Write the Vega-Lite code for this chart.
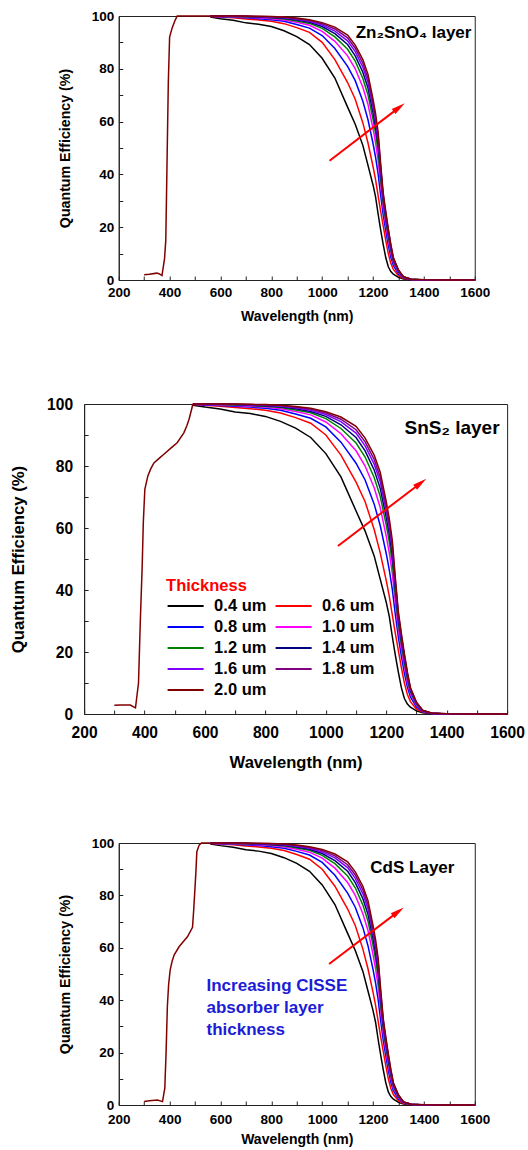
{
  "$schema": "https://vega.github.io/schema/vega-lite/v6.json",
  "padding": {"top": 8, "left": 9, "right": 0, "bottom": 0},
  "background": "white",
  "config": {
    "view": {"stroke": "#222222", "strokeWidth": 1},
    "font": "Liberation Sans",
    "axis": {"grid": false, "domainColor": "#222222", "tickColor": "#222222", "labelColor": "#000000", "titleColor": "#000000", "labelFont": "Liberation Sans", "titleFont": "Liberation Sans", "labelFontWeight": "bold", "titleFontWeight": "bold", "tickSize": -4, "labelFlush": false, "labelOverlap": false}
  },
  "datasets": {
    "long": [
      {"t":"0.4 um","w":560,"q":99.6},{"t":"0.4 um","w":600,"q":99.0},{"t":"0.4 um","w":650,"q":98.4},{"t":"0.4 um","w":700,"q":97.4},{"t":"0.4 um","w":750,"q":96.9},{"t":"0.4 um","w":800,"q":96.0},{"t":"0.4 um","w":850,"q":94.4},{"t":"0.4 um","w":900,"q":92.2},{"t":"0.4 um","w":950,"q":89.2},{"t":"0.4 um","w":1000,"q":84},{"t":"0.4 um","w":1050,"q":76.5},{"t":"0.4 um","w":1100,"q":65.5},{"t":"0.4 um","w":1130,"q":59},{"t":"0.4 um","w":1160,"q":51},{"t":"0.4 um","w":1180,"q":43.5},{"t":"0.4 um","w":1200,"q":36},{"t":"0.4 um","w":1210,"q":31.5},{"t":"0.4 um","w":1220,"q":25},{"t":"0.4 um","w":1230,"q":19},{"t":"0.4 um","w":1240,"q":13.5},{"t":"0.4 um","w":1250,"q":8.5},{"t":"0.4 um","w":1260,"q":5},{"t":"0.4 um","w":1270,"q":3.2},{"t":"0.4 um","w":1280,"q":2.2},{"t":"0.4 um","w":1300,"q":1.0},{"t":"0.4 um","w":1320,"q":0.4},{"t":"0.4 um","w":1350,"q":0.1},{"t":"0.4 um","w":1400,"q":0},{"t":"0.4 um","w":1500,"q":0},{"t":"0.4 um","w":1600,"q":0},
      {"t":"0.6 um","w":560,"q":99.8},{"t":"0.6 um","w":600,"q":99.6},{"t":"0.6 um","w":650,"q":99.3},{"t":"0.6 um","w":700,"q":98.9},{"t":"0.6 um","w":750,"q":98.5},{"t":"0.6 um","w":800,"q":98.0},{"t":"0.6 um","w":850,"q":97.1},{"t":"0.6 um","w":900,"q":95.6},{"t":"0.6 um","w":950,"q":93.8},{"t":"0.6 um","w":1000,"q":90},{"t":"0.6 um","w":1050,"q":83.5},{"t":"0.6 um","w":1100,"q":74.8},{"t":"0.6 um","w":1130,"q":68.5},{"t":"0.6 um","w":1160,"q":59.5},{"t":"0.6 um","w":1180,"q":52},{"t":"0.6 um","w":1200,"q":43},{"t":"0.6 um","w":1210,"q":38},{"t":"0.6 um","w":1220,"q":32},{"t":"0.6 um","w":1230,"q":26},{"t":"0.6 um","w":1240,"q":20.5},{"t":"0.6 um","w":1250,"q":15},{"t":"0.6 um","w":1260,"q":10},{"t":"0.6 um","w":1270,"q":6.3},{"t":"0.6 um","w":1280,"q":4.0},{"t":"0.6 um","w":1300,"q":1.6},{"t":"0.6 um","w":1320,"q":0.6},{"t":"0.6 um","w":1350,"q":0.15},{"t":"0.6 um","w":1400,"q":0},{"t":"0.6 um","w":1500,"q":0},{"t":"0.6 um","w":1600,"q":0},
      {"t":"0.8 um","w":560,"q":99.9},{"t":"0.8 um","w":600,"q":99.7},{"t":"0.8 um","w":650,"q":99.5},{"t":"0.8 um","w":700,"q":99.3},{"t":"0.8 um","w":750,"q":99.0},{"t":"0.8 um","w":800,"q":98.6},{"t":"0.8 um","w":850,"q":98.0},{"t":"0.8 um","w":900,"q":96.8},{"t":"0.8 um","w":950,"q":95.4},{"t":"0.8 um","w":1000,"q":92.6},{"t":"0.8 um","w":1050,"q":87.7},{"t":"0.8 um","w":1100,"q":80.9},{"t":"0.8 um","w":1130,"q":75.5},{"t":"0.8 um","w":1160,"q":67.7},{"t":"0.8 um","w":1180,"q":60.8},{"t":"0.8 um","w":1200,"q":51.7},{"t":"0.8 um","w":1210,"q":46.5},{"t":"0.8 um","w":1220,"q":40.2},{"t":"0.8 um","w":1230,"q":32.1},{"t":"0.8 um","w":1240,"q":24.8},{"t":"0.8 um","w":1250,"q":18.7},{"t":"0.8 um","w":1260,"q":13.2},{"t":"0.8 um","w":1270,"q":8.7},{"t":"0.8 um","w":1280,"q":5.5},{"t":"0.8 um","w":1300,"q":2.3},{"t":"0.8 um","w":1320,"q":0.8},{"t":"0.8 um","w":1350,"q":0.2},{"t":"0.8 um","w":1400,"q":0},{"t":"0.8 um","w":1500,"q":0},{"t":"0.8 um","w":1600,"q":0},
      {"t":"1.0 um","w":560,"q":99.9},{"t":"1.0 um","w":600,"q":99.8},{"t":"1.0 um","w":650,"q":99.7},{"t":"1.0 um","w":700,"q":99.5},{"t":"1.0 um","w":750,"q":99.3},{"t":"1.0 um","w":800,"q":99.0},{"t":"1.0 um","w":850,"q":98.5},{"t":"1.0 um","w":900,"q":97.6},{"t":"1.0 um","w":950,"q":96.5},{"t":"1.0 um","w":1000,"q":94.2},{"t":"1.0 um","w":1050,"q":90.4},{"t":"1.0 um","w":1100,"q":84.9},{"t":"1.0 um","w":1130,"q":80.0},{"t":"1.0 um","w":1160,"q":73.0},{"t":"1.0 um","w":1180,"q":66.6},{"t":"1.0 um","w":1200,"q":57.3},{"t":"1.0 um","w":1210,"q":52.0},{"t":"1.0 um","w":1220,"q":45.4},{"t":"1.0 um","w":1230,"q":36.1},{"t":"1.0 um","w":1240,"q":27.5},{"t":"1.0 um","w":1250,"q":21.2},{"t":"1.0 um","w":1260,"q":15.3},{"t":"1.0 um","w":1270,"q":10.3},{"t":"1.0 um","w":1280,"q":6.5},{"t":"1.0 um","w":1300,"q":2.8},{"t":"1.0 um","w":1320,"q":0.9},{"t":"1.0 um","w":1350,"q":0.2},{"t":"1.0 um","w":1400,"q":0.02},{"t":"1.0 um","w":1500,"q":0},{"t":"1.0 um","w":1600,"q":0},
      {"t":"1.2 um","w":560,"q":99.9},{"t":"1.2 um","w":600,"q":99.9},{"t":"1.2 um","w":650,"q":99.8},{"t":"1.2 um","w":700,"q":99.7},{"t":"1.2 um","w":750,"q":99.5},{"t":"1.2 um","w":800,"q":99.3},{"t":"1.2 um","w":850,"q":98.9},{"t":"1.2 um","w":900,"q":98.1},{"t":"1.2 um","w":950,"q":97.2},{"t":"1.2 um","w":1000,"q":95.3},{"t":"1.2 um","w":1050,"q":92.1},{"t":"1.2 um","w":1100,"q":87.4},{"t":"1.2 um","w":1130,"q":82.9},{"t":"1.2 um","w":1160,"q":76.3},{"t":"1.2 um","w":1180,"q":70.2},{"t":"1.2 um","w":1200,"q":60.9},{"t":"1.2 um","w":1210,"q":55.5},{"t":"1.2 um","w":1220,"q":48.8},{"t":"1.2 um","w":1230,"q":38.6},{"t":"1.2 um","w":1240,"q":29.3},{"t":"1.2 um","w":1250,"q":22.7},{"t":"1.2 um","w":1260,"q":16.7},{"t":"1.2 um","w":1270,"q":11.3},{"t":"1.2 um","w":1280,"q":7.2},{"t":"1.2 um","w":1300,"q":3.1},{"t":"1.2 um","w":1320,"q":1.0},{"t":"1.2 um","w":1350,"q":0.25},{"t":"1.2 um","w":1400,"q":0.03},{"t":"1.2 um","w":1500,"q":0},{"t":"1.2 um","w":1600,"q":0},
      {"t":"1.4 um","w":560,"q":100},{"t":"1.4 um","w":600,"q":99.9},{"t":"1.4 um","w":650,"q":99.9},{"t":"1.4 um","w":700,"q":99.8},{"t":"1.4 um","w":750,"q":99.6},{"t":"1.4 um","w":800,"q":99.4},{"t":"1.4 um","w":850,"q":99.1},{"t":"1.4 um","w":900,"q":98.5},{"t":"1.4 um","w":950,"q":97.6},{"t":"1.4 um","w":1000,"q":96.0},{"t":"1.4 um","w":1050,"q":93.3},{"t":"1.4 um","w":1100,"q":89.2},{"t":"1.4 um","w":1130,"q":84.9},{"t":"1.4 um","w":1160,"q":78.7},{"t":"1.4 um","w":1180,"q":72.8},{"t":"1.4 um","w":1200,"q":63.4},{"t":"1.4 um","w":1210,"q":58.0},{"t":"1.4 um","w":1220,"q":51.2},{"t":"1.4 um","w":1230,"q":40.4},{"t":"1.4 um","w":1240,"q":30.5},{"t":"1.4 um","w":1250,"q":23.8},{"t":"1.4 um","w":1260,"q":17.6},{"t":"1.4 um","w":1270,"q":12.1},{"t":"1.4 um","w":1280,"q":7.6},{"t":"1.4 um","w":1300,"q":3.4},{"t":"1.4 um","w":1320,"q":1.1},{"t":"1.4 um","w":1350,"q":0.27},{"t":"1.4 um","w":1400,"q":0.04},{"t":"1.4 um","w":1500,"q":0},{"t":"1.4 um","w":1600,"q":0},
      {"t":"1.6 um","w":560,"q":100},{"t":"1.6 um","w":600,"q":100},{"t":"1.6 um","w":650,"q":99.9},{"t":"1.6 um","w":700,"q":99.9},{"t":"1.6 um","w":750,"q":99.7},{"t":"1.6 um","w":800,"q":99.6},{"t":"1.6 um","w":850,"q":99.3},{"t":"1.6 um","w":900,"q":98.8},{"t":"1.6 um","w":950,"q":98.0},{"t":"1.6 um","w":1000,"q":96.6},{"t":"1.6 um","w":1050,"q":94.3},{"t":"1.6 um","w":1100,"q":90.6},{"t":"1.6 um","w":1130,"q":86.5},{"t":"1.6 um","w":1160,"q":80.6},{"t":"1.6 um","w":1180,"q":74.9},{"t":"1.6 um","w":1200,"q":65.4},{"t":"1.6 um","w":1210,"q":60.0},{"t":"1.6 um","w":1220,"q":53.1},{"t":"1.6 um","w":1230,"q":41.8},{"t":"1.6 um","w":1240,"q":31.5},{"t":"1.6 um","w":1250,"q":24.7},{"t":"1.6 um","w":1260,"q":18.4},{"t":"1.6 um","w":1270,"q":12.6},{"t":"1.6 um","w":1280,"q":8.0},{"t":"1.6 um","w":1300,"q":3.5},{"t":"1.6 um","w":1320,"q":1.1},{"t":"1.6 um","w":1350,"q":0.28},{"t":"1.6 um","w":1400,"q":0.04},{"t":"1.6 um","w":1500,"q":0},{"t":"1.6 um","w":1600,"q":0},
      {"t":"1.8 um","w":560,"q":100},{"t":"1.8 um","w":600,"q":100},{"t":"1.8 um","w":650,"q":100},{"t":"1.8 um","w":700,"q":99.9},{"t":"1.8 um","w":750,"q":99.8},{"t":"1.8 um","w":800,"q":99.7},{"t":"1.8 um","w":850,"q":99.5},{"t":"1.8 um","w":900,"q":99.0},{"t":"1.8 um","w":950,"q":98.3},{"t":"1.8 um","w":1000,"q":97.1},{"t":"1.8 um","w":1050,"q":95.1},{"t":"1.8 um","w":1100,"q":91.7},{"t":"1.8 um","w":1130,"q":87.8},{"t":"1.8 um","w":1160,"q":82.1},{"t":"1.8 um","w":1180,"q":76.4},{"t":"1.8 um","w":1200,"q":67.0},{"t":"1.8 um","w":1210,"q":61.5},{"t":"1.8 um","w":1220,"q":54.6},{"t":"1.8 um","w":1230,"q":42.9},{"t":"1.8 um","w":1240,"q":32.3},{"t":"1.8 um","w":1250,"q":25.3},{"t":"1.8 um","w":1260,"q":18.9},{"t":"1.8 um","w":1270,"q":13.1},{"t":"1.8 um","w":1280,"q":8.2},{"t":"1.8 um","w":1300,"q":3.7},{"t":"1.8 um","w":1320,"q":1.2},{"t":"1.8 um","w":1350,"q":0.29},{"t":"1.8 um","w":1400,"q":0.05},{"t":"1.8 um","w":1500,"q":0},{"t":"1.8 um","w":1600,"q":0},
      {"t":"2.0 um","w":560,"q":100},{"t":"2.0 um","w":600,"q":100},{"t":"2.0 um","w":650,"q":100},{"t":"2.0 um","w":700,"q":100},{"t":"2.0 um","w":750,"q":99.9},{"t":"2.0 um","w":800,"q":99.8},{"t":"2.0 um","w":850,"q":99.6},{"t":"2.0 um","w":900,"q":99.2},{"t":"2.0 um","w":950,"q":98.6},{"t":"2.0 um","w":1000,"q":97.5},{"t":"2.0 um","w":1050,"q":95.8},{"t":"2.0 um","w":1100,"q":92.8},{"t":"2.0 um","w":1130,"q":89},{"t":"2.0 um","w":1160,"q":83.5},{"t":"2.0 um","w":1180,"q":78},{"t":"2.0 um","w":1200,"q":68.5},{"t":"2.0 um","w":1210,"q":63},{"t":"2.0 um","w":1220,"q":56},{"t":"2.0 um","w":1230,"q":44},{"t":"2.0 um","w":1240,"q":33},{"t":"2.0 um","w":1250,"q":26},{"t":"2.0 um","w":1260,"q":19.5},{"t":"2.0 um","w":1270,"q":13.5},{"t":"2.0 um","w":1280,"q":8.5},{"t":"2.0 um","w":1300,"q":3.8},{"t":"2.0 um","w":1320,"q":1.2},{"t":"2.0 um","w":1350,"q":0.3},{"t":"2.0 um","w":1400,"q":0.05},{"t":"2.0 um","w":1500,"q":0},{"t":"2.0 um","w":1600,"q":0}
    ],
    "shortTop": [
      {"w":300,"q":2.0},{"w":320,"q":2.2},{"w":350,"q":2.6},{"w":360,"q":2.3},{"w":370,"q":1.7},{"w":380,"q":8},{"w":385,"q":15},{"w":390,"q":45},{"w":395,"q":75},{"w":400,"q":92},{"w":410,"q":95.5},{"w":420,"q":98},{"w":430,"q":100},{"w":500,"q":100},{"w":560,"q":100}
    ],
    "shortMid": [
      {"w":300,"q":2.8},{"w":320,"q":2.9},{"w":353,"q":2.9},{"w":370,"q":2.0},{"w":380,"q":10},{"w":386,"q":30},{"w":392,"q":47},{"w":396,"q":62},{"w":401,"q":72.5},{"w":411,"q":76.8},{"w":420,"q":79},{"w":431,"q":81},{"w":450,"q":82.6},{"w":464,"q":83.8},{"w":490,"q":86},{"w":508,"q":87.5},{"w":530,"q":90.7},{"w":540,"q":93},{"w":547,"q":95},{"w":555,"q":98},{"w":560,"q":100}
    ],
    "shortBot": [
      {"w":300,"q":1.3},{"w":320,"q":1.6},{"w":352,"q":1.9},{"w":372,"q":1.3},{"w":381,"q":6.4},{"w":386,"q":20},{"w":391,"q":37.5},{"w":396,"q":46},{"w":402,"q":51.5},{"w":410,"q":55},{"w":418,"q":57.3},{"w":437,"q":60.4},{"w":455,"q":62.5},{"w":470,"q":64.2},{"w":490,"q":67.8},{"w":495,"q":75},{"w":503,"q":88.4},{"w":507,"q":96.7},{"w":516,"q":99.2},{"w":525,"q":100},{"w":560,"q":100}
    ]
  },
  "vconcat": [
    {
      "width": 356, "height": 264,
      "encoding": {
        "x": {"field": "w", "type": "quantitative", "scale": {"domain": [200, 1600], "nice": false, "zero": false},
              "axis": {"title": "Wavelength (nm)", "values": [200,300,400,500,600,700,800,900,1000,1100,1200,1300,1400,1500,1600], "labelExpr": "datum.value % 200 == 0 ? datum.label : ''", "format": "d", "labelFontSize": 13.5, "titleFontSize": 14, "labelPadding": 9, "titlePadding": 11}},
        "y": {"field": "q", "type": "quantitative", "scale": {"domain": [0, 100], "nice": false},
              "axis": {"title": "Quantum Efficiency (%)", "values": [0,10,20,30,40,50,60,70,80,90,100], "labelExpr": "datum.value % 20 == 0 ? datum.label : ''", "labelFontSize": 13.5, "titleFontSize": 14.2, "labelPadding": 9, "titlePadding": 19}}
      },
      "layer": [
        {"data": {"name": "long"}, "mark": {"type": "line", "strokeWidth": 1.5}, "encoding": {"color": {"field": "t", "type": "nominal", "scale": {"domain": ["0.4 um","0.6 um","0.8 um","1.0 um","1.2 um","1.4 um","1.6 um","1.8 um","2.0 um"], "range": ["#000000","#ff0000","#0000ff","#ff00ff","#008000","#000080","#8000ff","#800080","#800000"]}, "legend": null}}},
        {"data": {"name": "shortTop"}, "mark": {"type": "line", "color": "#800000", "strokeWidth": 1.5}, "encoding": {}},
        {"data": {"values": [{"w": 1029, "q": 45.2}, {"w": 1303, "q": 65.4}]}, "mark": {"type": "line", "color": "#ff0000", "strokeWidth": 2}, "encoding": {}},
        {"data": {"values": [{"w": 1303, "q": 65.4}]}, "mark": {"type": "point", "shape": "M-1,-0.45L1,0L-1,0.45Z", "filled": true, "color": "#ff0000", "opacity": 1, "size": 196, "angle": 323}},
        {"data": {"values": [{"w": 1587, "q": 93.7, "label": "Zn₂SnO₄ layer"}]}, "mark": {"type": "text", "align": "right", "baseline": "middle", "font": "Liberation Sans", "fontWeight": "bold", "fontSize": 17, "color": "#000000"}, "encoding": {"text": {"field": "label"}}}
      ]
    },
    {
      "vconcat": [
        {
          "width": 423, "height": 310,
          "encoding": {
            "x": {"field": "w", "type": "quantitative", "scale": {"domain": [200, 1600], "nice": false, "zero": false},
                  "axis": {"title": "Wavelength (nm)", "values": [200,300,400,500,600,700,800,900,1000,1100,1200,1300,1400,1500,1600], "labelExpr": "datum.value % 200 == 0 ? datum.label : ''", "format": "d", "labelFontSize": 15.6, "titleFontSize": 16.6, "labelPadding": 15, "titlePadding": 14}},
            "y": {"field": "q", "type": "quantitative", "scale": {"domain": [0, 100], "nice": false},
                  "axis": {"title": "Quantum Efficiency (%)", "values": [0,10,20,30,40,50,60,70,80,90,100], "labelExpr": "datum.value % 20 == 0 ? datum.label : ''", "labelFontSize": 15.6, "titleFontSize": 16.7, "labelPadding": 15.5, "titlePadding": 19.5}}
          },
          "layer": [
            {"data": {"name": "long"}, "mark": {"type": "line", "strokeWidth": 1.5}, "encoding": {"color": {"field": "t", "type": "nominal", "scale": {"domain": ["0.4 um","0.6 um","0.8 um","1.0 um","1.2 um","1.4 um","1.6 um","1.8 um","2.0 um"], "range": ["#000000","#ff0000","#0000ff","#ff00ff","#008000","#000080","#8000ff","#800080","#800000"]},
              "legend": {"orient": "none", "legendX": 82, "legendY": 174, "direction": "horizontal", "title": "Thickness", "titleColor": "#ff0000", "titleFont": "Liberation Sans", "titleFontWeight": "bold", "titleFontSize": 16.5, "titlePadding": 1, "labelFont": "Liberation Sans", "labelFontWeight": "bold", "labelFontSize": 16.5, "labelColor": "#000000", "columns": 2, "symbolType": "stroke", "symbolSize": 1300, "symbolStrokeWidth": 2, "clipHeight": 21, "rowPadding": 0, "columnPadding": 7, "labelOffset": 9, "padding": 0}}}},
            {"data": {"name": "shortMid"}, "mark": {"type": "line", "color": "#800000", "strokeWidth": 1.5}, "encoding": {}},
            {"data": {"values": [{"w": 1040, "q": 54.2}, {"w": 1314, "q": 74.5}]}, "mark": {"type": "line", "color": "#ff0000", "strokeWidth": 2}, "encoding": {}},
            {"data": {"values": [{"w": 1314, "q": 74.5}]}, "mark": {"type": "point", "shape": "M-1,-0.45L1,0L-1,0.45Z", "filled": true, "color": "#ff0000", "opacity": 1, "size": 196, "angle": 323}},
            {"data": {"values": [{"w": 1575, "q": 92.3, "label": "SnS₂ layer"}]}, "mark": {"type": "text", "align": "right", "baseline": "middle", "font": "Liberation Sans", "fontWeight": "bold", "fontSize": 19, "color": "#000000"}, "encoding": {"text": {"field": "label"}}}
          ]
        },
        {
          "width": 356, "height": 262,
          "encoding": {
            "x": {"field": "w", "type": "quantitative", "scale": {"domain": [200, 1600], "nice": false, "zero": false},
                  "axis": {"title": "Wavelength (nm)", "values": [200,300,400,500,600,700,800,900,1000,1100,1200,1300,1400,1500,1600], "labelExpr": "datum.value % 200 == 0 ? datum.label : ''", "format": "d", "labelFontSize": 13.5, "titleFontSize": 14, "labelPadding": 11, "titlePadding": 7}},
            "y": {"field": "q", "type": "quantitative", "scale": {"domain": [0, 100], "nice": false},
                  "axis": {"title": "Quantum Efficiency (%)", "values": [0,10,20,30,40,50,60,70,80,90,100], "labelExpr": "datum.value % 20 == 0 ? datum.label : ''", "labelFontSize": 13.5, "titleFontSize": 14.2, "labelPadding": 9, "titlePadding": 19}}
          },
          "layer": [
            {"data": {"name": "long"}, "mark": {"type": "line", "strokeWidth": 1.5}, "encoding": {"color": {"field": "t", "type": "nominal", "scale": {"domain": ["0.4 um","0.6 um","0.8 um","1.0 um","1.2 um","1.4 um","1.6 um","1.8 um","2.0 um"], "range": ["#000000","#ff0000","#0000ff","#ff00ff","#008000","#000080","#8000ff","#800080","#800000"]}, "legend": null}}},
            {"data": {"name": "shortBot"}, "mark": {"type": "line", "color": "#800000", "strokeWidth": 1.5}, "encoding": {}},
            {"data": {"values": [{"w": 1027, "q": 53.8}, {"w": 1299, "q": 73.8}]}, "mark": {"type": "line", "color": "#ff0000", "strokeWidth": 2}, "encoding": {}},
            {"data": {"values": [{"w": 1299, "q": 73.8}]}, "mark": {"type": "point", "shape": "M-1,-0.45L1,0L-1,0.45Z", "filled": true, "color": "#ff0000", "opacity": 1, "size": 196, "angle": 323}},
            {"data": {"values": [{"w": 1520, "q": 90.5, "label": "CdS Layer"}]}, "mark": {"type": "text", "align": "right", "baseline": "middle", "font": "Liberation Sans", "fontWeight": "bold", "fontSize": 17, "color": "#000000"}, "encoding": {"text": {"field": "label"}}},
            {"data": {"values": [{"w": 545, "q": 48.3, "label": ["Increasing CISSE", "absorber layer", "thickness"]}]}, "mark": {"type": "text", "align": "left", "baseline": "top", "font": "Liberation Sans", "fontWeight": "bold", "fontSize": 17, "lineHeight": 21.7, "color": "#1c1cd6"}, "encoding": {"text": {"field": "label"}}}
          ]
        }
      ],
      "spacing": 63,
      "center": true,
      "resolve": {"scale": {"color": "independent"}, "legend": {"color": "independent"}}
    }
  ],
  "spacing": 72,
  "center": true,
  "resolve": {"scale": {"color": "independent"}, "legend": {"color": "independent"}}
}
